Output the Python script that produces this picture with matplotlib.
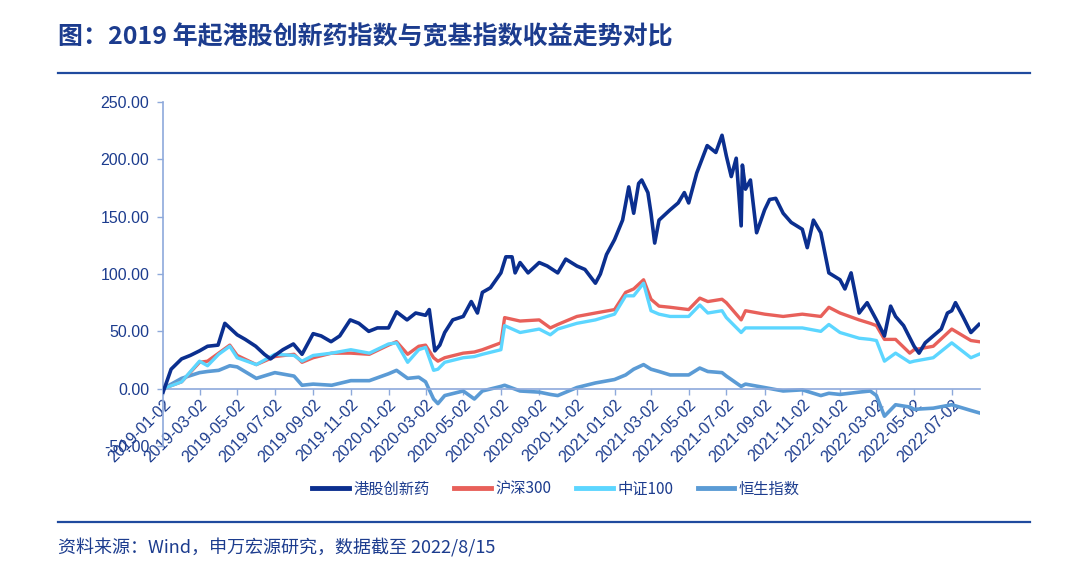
import numpy as np
import pandas as pd
import matplotlib
matplotlib.use('Agg')
import matplotlib.pyplot as plt

plt.rcParams['font.family'] = ['Noto Sans CJK SC', 'DejaVu Sans']

# 港股创新药 (读图估计, 较密的采样)
navy_dates = ['2019-01-02', '2019-01-15', '2019-02-01', '2019-02-15', '2019-03-02', '2019-03-15',
              '2019-04-01', '2019-04-12', '2019-05-02', '2019-05-15', '2019-06-01', '2019-06-15',
              '2019-06-25', '2019-07-02', '2019-07-15', '2019-08-01', '2019-08-15', '2019-09-02',
              '2019-09-15', '2019-10-01', '2019-10-15', '2019-11-01', '2019-11-15', '2019-12-01',
              '2019-12-15', '2020-01-02', '2020-01-15', '2020-02-01', '2020-02-15', '2020-03-02',
              '2020-03-08', '2020-03-17', '2020-03-25', '2020-04-02', '2020-04-15', '2020-05-02',
              '2020-05-15', '2020-05-25', '2020-06-02', '2020-06-15', '2020-07-02', '2020-07-10',
              '2020-07-20', '2020-07-25', '2020-08-02', '2020-08-15', '2020-09-02', '2020-09-15',
              '2020-10-02', '2020-10-15', '2020-11-02', '2020-11-15', '2020-12-02', '2020-12-10',
              '2020-12-20', '2021-01-02', '2021-01-15', '2021-01-25', '2021-02-02', '2021-02-10',
              '2021-02-15', '2021-02-25', '2021-03-02', '2021-03-08', '2021-03-15', '2021-04-02',
              '2021-04-15', '2021-04-25', '2021-05-02', '2021-05-15', '2021-06-01', '2021-06-15',
              '2021-06-25', '2021-07-02', '2021-07-10', '2021-07-18', '2021-07-26', '2021-07-28',
              '2021-08-02', '2021-08-10', '2021-08-20', '2021-09-02', '2021-09-10', '2021-09-20',
              '2021-10-02', '2021-10-15', '2021-11-02', '2021-11-10', '2021-11-20', '2021-12-02',
              '2021-12-15', '2022-01-02', '2022-01-10', '2022-01-20', '2022-02-02', '2022-02-15',
              '2022-03-02', '2022-03-15', '2022-03-25', '2022-04-02', '2022-04-15', '2022-05-02',
              '2022-05-10', '2022-05-20', '2022-06-02', '2022-06-15', '2022-06-25', '2022-07-02',
              '2022-07-08', '2022-07-20', '2022-08-02', '2022-08-15']
hk_pharma = [-3, 17, 26, 29, 33, 37,
             38, 57, 47, 43, 37, 30,
             26, 29, 34, 39, 30, 48,
             46, 41, 46, 60, 57, 50,
             53, 53, 67, 60, 66, 64,
             69, 33, 38, 49, 60, 63,
             76, 66, 84, 88, 101, 115,
             115, 101, 110, 101, 110, 107,
             101, 113, 107, 104, 92, 100,
             117, 130, 147, 176, 153, 179,
             182, 171, 153, 127, 147, 156,
             162, 171, 162, 188, 212, 206,
             221, 203, 185, 201, 142, 195,
             174, 182, 136, 156, 165, 166,
             153, 145, 139, 123, 147, 136,
             101, 95, 87, 101, 66, 75,
             60, 46, 72, 63, 55, 37,
             31, 40, 46, 52, 66, 68,
             75, 63, 49, 56]

# 宽基指数
dates = ['2019-01-02', '2019-02-01', '2019-03-02', '2019-03-15', '2019-04-02', '2019-04-20',
         '2019-05-02', '2019-06-02', '2019-07-02', '2019-08-02', '2019-08-15', '2019-09-02',
         '2019-10-02', '2019-11-02', '2019-12-02', '2020-01-02', '2020-01-15', '2020-02-02',
         '2020-02-20', '2020-03-02', '2020-03-15', '2020-03-22', '2020-04-02', '2020-05-02',
         '2020-05-20', '2020-06-02', '2020-07-02', '2020-07-08', '2020-08-02', '2020-09-02',
         '2020-09-20', '2020-10-02', '2020-11-02', '2020-12-02', '2021-01-02', '2021-01-20',
         '2021-02-02', '2021-02-18', '2021-03-02', '2021-03-15', '2021-04-02', '2021-05-02',
         '2021-05-20', '2021-06-02', '2021-06-25', '2021-07-02', '2021-07-26', '2021-08-02',
         '2021-09-02', '2021-10-02', '2021-11-02', '2021-12-02', '2021-12-15', '2022-01-02',
         '2022-02-02', '2022-02-20', '2022-03-02', '2022-03-15', '2022-04-02', '2022-04-25',
         '2022-05-02', '2022-06-02', '2022-07-02', '2022-08-02', '2022-08-15']
hs300 = [0, 6, 23, 24, 31, 38,
         29, 21, 28, 30, 23, 27,
         31, 31, 30, 38, 41, 30,
         37, 38, 27, 24, 27, 31,
         32, 34, 40, 62, 59, 60,
         53, 56, 63, 66, 69, 84,
         87, 95, 78, 72, 71, 69,
         79, 76, 78, 75, 60, 68,
         65, 63, 65, 63, 71, 66,
         60, 57, 55, 43, 43, 31,
         34, 37, 52, 42, 41]
csi100 = [0, 6, 24, 20, 30, 37,
          27, 21, 30, 29, 24, 29,
          31, 34, 31, 39, 40, 23,
          34, 36, 16, 17, 23, 27,
          28, 30, 34, 55, 49, 52,
          47, 52, 57, 60, 65, 81,
          81, 92, 68, 65, 63, 63,
          73, 66, 68, 62, 49, 53,
          53, 53, 53, 50, 56, 49,
          44, 43, 42, 24, 31, 23,
          24, 27, 40, 27, 30]
hsi = [0, 9, 14, 15, 16, 20,
       19, 9, 14, 11, 3, 4,
       3, 7, 7, 13, 16, 9,
       10, 6, -9, -13, -6, -2,
       -9, -2, 2, 3, -2, -3,
       -5, -6, 1, 5, 8, 12,
       17, 21, 17, 15, 12, 12,
       18, 15, 14, 11, 2, 4,
       1, -2, -1, -6, -4, -5,
       -3, -2, -6, -24, -14, -16,
       -18, -17, -14, -19, -21]

tick_dates = ['2019-01-02', '2019-03-02', '2019-05-02', '2019-07-02', '2019-09-02', '2019-11-02',
              '2020-01-02', '2020-03-02', '2020-05-02', '2020-07-02', '2020-09-02', '2020-11-02',
              '2021-01-02', '2021-03-02', '2021-05-02', '2021-07-02', '2021-09-02', '2021-11-02',
              '2022-01-02', '2022-03-02', '2022-05-02', '2022-07-02']
y_ticks = [-50, 0, 50, 100, 150, 200, 250]

dark = '#1C3C8E'
axis_c = '#8EA9DB'

fig = plt.figure(figsize=(10.8, 5.7), dpi=100)
ax = fig.add_axes([0.151, 0.2175, 0.756, 0.6035])

# x轴放在0处 (要在设置刻度标签之前, 否则会被重置)
for s in ['top', 'right']:
    ax.spines[s].set_visible(False)
ax.spines['bottom'].set_position(('data', 0))
ax.spines['bottom'].set_color(axis_c)
ax.spines['left'].set_color(axis_c)
ax.spines['bottom'].set_linewidth(1.2)
ax.spines['left'].set_linewidth(1.2)

nd = pd.to_datetime(navy_dates)
d = pd.to_datetime(dates)
ax.plot(d, hsi, color='#5B9BD5', lw=2.6, label='恒生指数', zorder=2)
ax.plot(d, hs300, color='#E8605A', lw=2.4, label='沪深300', zorder=3)
ax.plot(d, csi100, color='#5CD6FF', lw=2.4, label='中证100', zorder=4)
ax.plot(nd, hk_pharma, color='#0B2F8F', lw=2.6, label='港股创新药', zorder=5)

ax.set_ylim(-50, 250)
ax.set_xlim(pd.Timestamp('2019-01-02'), pd.Timestamp('2022-08-16'))
ax.tick_params(axis='both', colors=axis_c, length=4, width=1, labelcolor=dark)
ax.tick_params(axis='y', pad=6)
ax.tick_params(axis='x', pad=2)

ax.set_yticks(y_ticks)
ax.set_yticklabels(['%.2f' % v for v in y_ticks],
                   family=['Liberation Sans', 'DejaVu Sans'], fontsize=11.5, color=dark)
ax.set_xticks(pd.to_datetime(tick_dates))
ax.set_xticklabels(tick_dates, rotation=45, ha='right', va='top', rotation_mode='anchor',
                   family=['Liberation Sans', 'DejaVu Sans'], fontsize=11.5, color=dark)

# 图例
h, l = ax.get_legend_handles_labels()
order = [3, 1, 2, 0]
leg = fig.legend([h[i] for i in order], [l[i] for i in order], loc='center',
                 bbox_to_anchor=(0.515, 0.142), ncol=4, frameon=False,
                 fontsize=11, handlelength=2.4, columnspacing=1.6, handletextpad=0.3)
for t in leg.get_texts():
    t.set_color(dark)
for ln in leg.get_lines():
    ln.set_linewidth(3.5)

# 标题、分割线和来源
fig.text(0.054, 0.935, '图：2019 年起港股创新药指数与宽基指数收益走势对比',
         fontsize=18, fontweight='bold', color=dark, va='center', ha='left')
fig.add_artist(plt.Line2D([0.054, 0.954], [0.872, 0.872], color='#1F4A9E', lw=1.6))
fig.add_artist(plt.Line2D([0.054, 0.954], [0.084, 0.084], color='#1F4A9E', lw=1.6))
fig.text(0.054, 0.039, '资料来源：Wind，申万宏源研究，数据截至 2022/8/15',
         fontsize=13, color=dark, va='center', ha='left')

fig.savefig('out.png', dpi=100)
